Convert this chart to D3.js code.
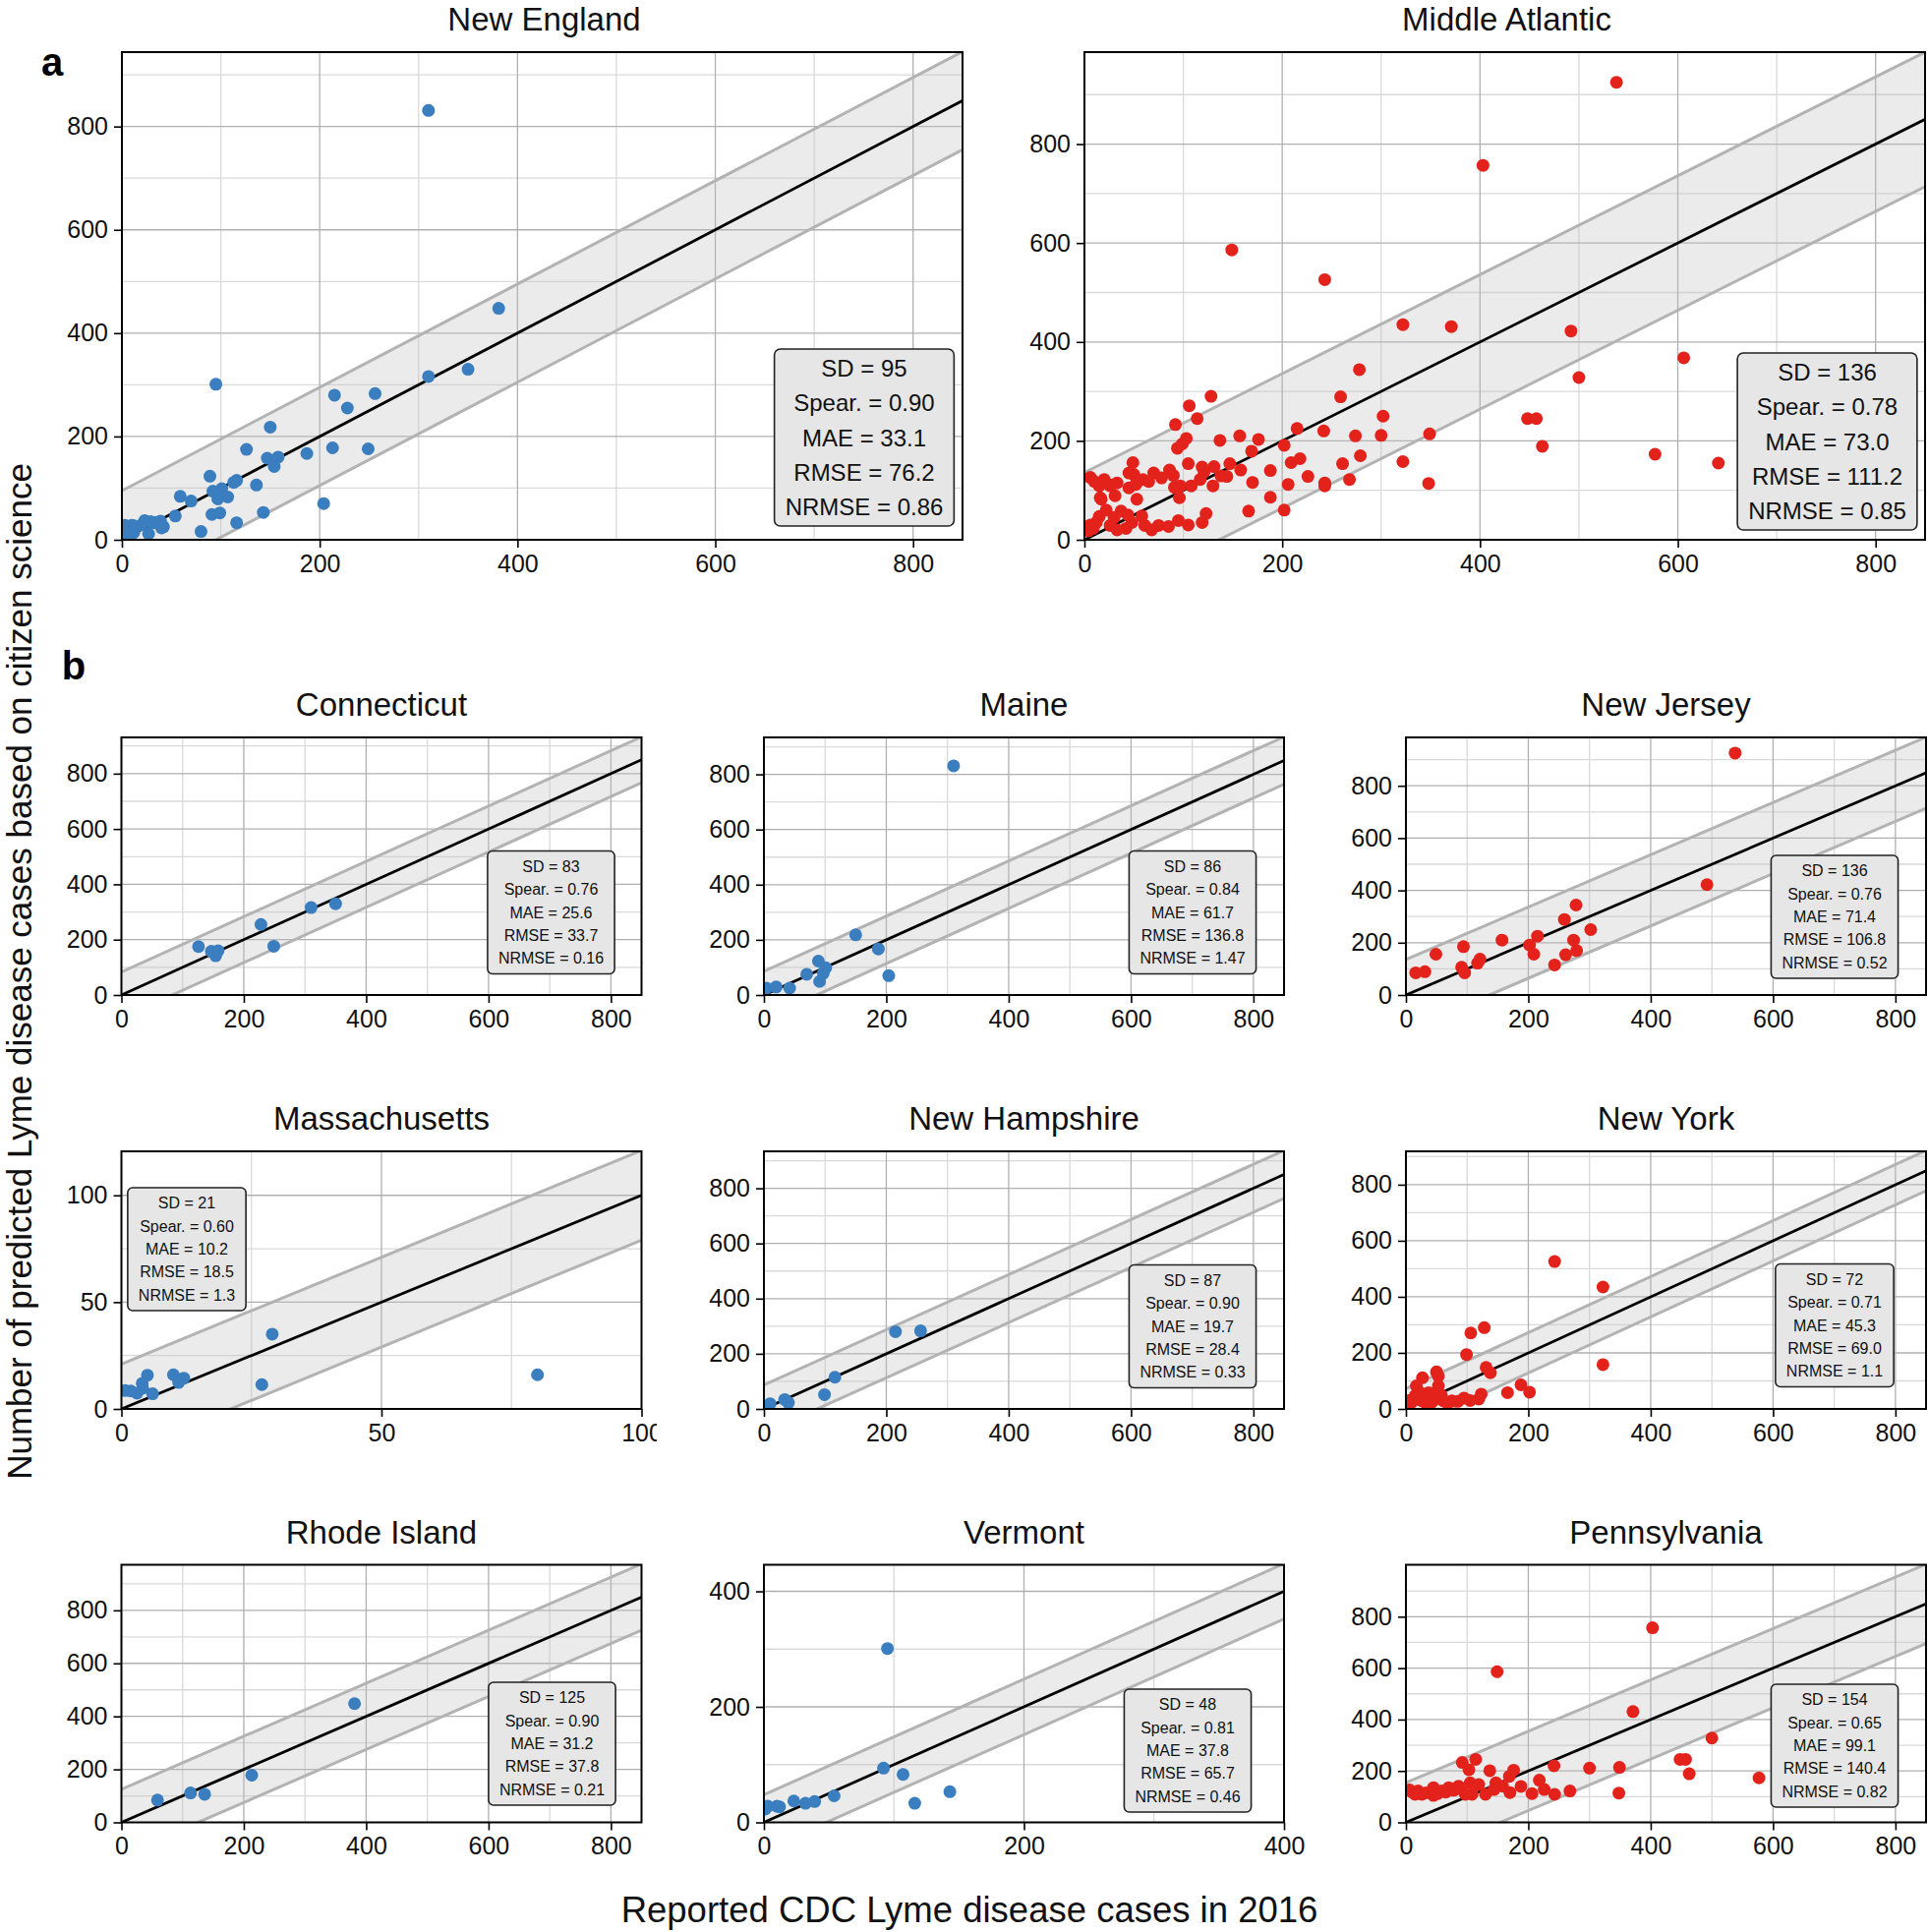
<!DOCTYPE html>
<html><head><meta charset="utf-8">
<script src="https://cdn.jsdelivr.net/npm/d3@7"></script>
<style>body{margin:0;background:#fff} svg{display:block} text{font-family:"Liberation Sans",Arial,Helvetica,sans-serif}</style>
</head><body><svg id="c" width="1961" height="1965"></svg>
<script>
// ---------------- DATA (reported CDC cases, predicted cases) ----------------
const connecticut = [[126,175],[147,158],[154,142],[158,160],[228,255],[249,176],[310,316],[350,330]];
const maine = [[310,831],[150,218],[187,167],[204,70],[89,123],[101,99],[97,79],[91,49],[70,75],[42,25],[20,29],[4,25]];
const massachusetts = [[80,16],[29,35],[27,11.4],[10,16],[12,14.4],[11,12.4],[5,15.8],[4,12],[6,7.1],[3,7.4],[1.8,8.4],[0.7,8.6],[4.1,9.7]];
const newHampshire = [[215,280],[256,283],[116,115],[99,52],[34,34],[40,23],[10,19]];
const rhodeIsland = [[59,84],[113,111],[136,106],[213,178],[381,448]];
const vermont = [[95,301],[92,94],[107,83],[143,53],[116,33],[54,46],[39,36],[32,33],[23,37],[12,27],[10,28],[3,28],[1,23]];
const newJersey = [[538,925],[492,422],[278,344],[259,289],[302,250],[274,210],[279,170],[261,154],[243,115],[215,225],[202,191],[209,156],[157,210],[121,137],[117,122],[94,185],[91,106],[96,85],[49,156],[31,89],[16,85]];
const newYork = [[243,526],[322,435],[322,158],[128,290],[106,271],[99,194],[131,148],[138,129],[188,86],[202,60],[166,58],[123,53],[119,35],[95,39],[75,29],[50,132],[53,117],[27,111],[17,82],[53,82],[37,58],[15,47],[26,29],[48,35],[9,23],[61,29],[4,18],[42,23],[30,45],[22,60],[12,35],[58,48],[68,20],[85,27],[33,20],[44,50],[6,30],[105,30]];
const pennsylvania = [[403,757],[149,586],[371,431],[500,328],[448,245],[457,245],[463,189],[577,173],[348,114],[349,214],[300,211],[242,220],[243,109],[268,122],[218,164],[226,128],[206,112],[188,140],[176,203],[169,179],[170,116],[137,201],[114,245],[92,233],[103,205],[105,154],[119,147],[130,109],[108,109],[86,141],[70,135],[59,122],[45,135],[45,105],[26,109],[15,109],[6,126],[147,154],[158,141],[144,128],[97,109],[10,118],[20,122],[33,115],[52,112],[65,118],[78,125],[90,130]];
const midAtlanticExtra = [[606,368],[641,155]];
const newEngland = [].concat(connecticut, maine, massachusetts, newHampshire, rhodeIsland, vermont);
const middleAtlantic = [].concat(newJersey, newYork, pennsylvania, midAtlanticExtra);

const panelNames = ["New England","Middle Atlantic","Connecticut","Maine","New Jersey","Massachusetts","New Hampshire","New York","Rhode Island","Vermont","Pennsylvania"];
const panelData = [newEngland, middleAtlantic, connecticut, maine, newJersey, massachusetts, newHampshire, newYork, rhodeIsland, vermont, pennsylvania];
const sdValues = [95,136,83,86,136,21,87,72,125,48,154];
const spearValues = ["0.90","0.78","0.76","0.84","0.76","0.60","0.90","0.71","0.90","0.81","0.65"];
const maeValues = ["33.1","73.0","25.6","61.7","71.4","10.2","19.7","45.3","31.2","37.8","99.1"];
const rmseValues = ["76.2","111.2","33.7","136.8","106.8","18.5","28.4","69.0","37.8","65.7","140.4"];
const nrmseValues = ["0.86","0.85","0.16","1.47","0.52","1.3","0.33","1.1","0.21","0.46","0.82"];
const xMaxValues = [850,850,850,850,850,100,850,850,850,400,850];
const yMaxValues = [944,986,931,934,985,120.6,934,919,972,446,1002];
const ticksStd = [0,200,400,600,800], minorStd = [100,300,500,700,900];
const ticksMass = [0,50,100], minorMass = [25,75];
const ticksVt = [0,200,400], minorVt = [100,300];
const regionOf = ["NE","MA","NE","NE","MA","NE","NE","MA","NE","NE","MA"];
const xLabel = "Reported CDC Lyme disease cases in 2016";
const yLabel = "Number of predicted Lyme disease cases based on citizen science";

// ---------------- LAYOUT ----------------
const colors = {NE:"#3a7ebf", MA:"#e3221c"};
const bigPanels = [{x:124,y:53,w:855,h:496},{x:1103,y:53,w:855,h:496}];
const colX = [123.5,777,1430], rowY = [750,1171,1591.5], smallW = 529, smallH = 262;
const boxCenters = [[755,392],[755.5,396],[437,178],[436,178],[436,182.5],[66.5,99.5],[436,178],[436,177],[438,182],[431,189],[436,184]];

const svg = d3.select("#c");

function drawPanel(i){
  const big = i < 2;
  let L;
  if (big) L = bigPanels[i]; else { const k=i-2; L = {x:colX[k%3], y:rowY[Math.floor(k/3)], w:smallW, h:smallH}; }
  const xMax = xMaxValues[i], yMax = yMaxValues[i], sd = sdValues[i];
  const xs = d3.scaleLinear().domain([0,xMax]).range([0,L.w]);
  const ys = d3.scaleLinear().domain([0,yMax]).range([L.h,0]);
  let xt = ticksStd, xm = minorStd.filter(v=>v<xMax), yt = ticksStd, ym = minorStd.filter(v=>v<yMax);
  if (panelNames[i]==="Massachusetts"){ xt=ticksMass; xm=minorMass; yt=ticksMass; ym=minorMass; }
  if (panelNames[i]==="Vermont"){ xt=ticksVt; xm=minorVt; yt=ticksVt; ym=minorVt; }
  const g = svg.append("g").attr("transform",`translate(${L.x},${L.y})`);
  const cid = "clip"+i;
  g.append("clipPath").attr("id",cid).append("rect").attr("width",L.w).attr("height",L.h);
  const pg = g.append("g").attr("clip-path",`url(#${cid})`);
  // minor grid
  pg.selectAll(".mx").data(xm).join("line").attr("x1",d=>xs(d)).attr("x2",d=>xs(d)).attr("y1",0).attr("y2",L.h).attr("stroke","#dadada").attr("stroke-width",1.3);
  pg.selectAll(".my").data(ym).join("line").attr("y1",d=>ys(d)).attr("y2",d=>ys(d)).attr("x1",0).attr("x2",L.w).attr("stroke","#dadada").attr("stroke-width",1.3);
  // major grid
  pg.selectAll(".Mx").data(xt.filter(v=>v>0&&v<xMax)).join("line").attr("x1",d=>xs(d)).attr("x2",d=>xs(d)).attr("y1",0).attr("y2",L.h).attr("stroke","#b0b0b0").attr("stroke-width",1.3);
  pg.selectAll(".My").data(yt.filter(v=>v>0&&v<yMax)).join("line").attr("y1",d=>ys(d)).attr("y2",d=>ys(d)).attr("x1",0).attr("x2",L.w).attr("stroke","#b0b0b0").attr("stroke-width",1.3);
  // band
  const x0 = -sd, x1 = xMax + sd;
  const band = [[x0,x0+sd],[x1,x1+sd],[x1,x1-sd],[x0,x0-sd]];
  pg.append("polygon").attr("points", band.map(p=>xs(p[0])+","+ys(p[1])).join(" ")).attr("fill","#bdbdbd").attr("fill-opacity",0.3);
  const line = d3.line().x(p=>xs(p[0])).y(p=>ys(p[1]));
  pg.append("path").attr("d",line([[x0,x0+sd],[x1,x1+sd]])).attr("stroke","#b3b3b3").attr("stroke-width",3).attr("fill","none");
  pg.append("path").attr("d",line([[x0,x0-sd],[x1,x1-sd]])).attr("stroke","#b3b3b3").attr("stroke-width",3).attr("fill","none");
  pg.append("path").attr("d",line([[0,0],[x1,x1]])).attr("stroke","#000").attr("stroke-width",2.8).attr("fill","none");
  // points
  pg.selectAll("circle").data(panelData[i]).join("circle").attr("cx",d=>xs(d[0])).attr("cy",d=>ys(d[1])).attr("r",6.5).attr("fill",colors[regionOf[i]]);
  // stats box
  const lines = ["SD = "+sdValues[i],"Spear. = "+spearValues[i],"MAE = "+maeValues[i],"RMSE = "+rmseValues[i],"NRMSE = "+nrmseValues[i]];
  const fs = big?24:16, sp = big?35.3:23.3, pad = 11, extraH = big?3.5:8.5;
  const [cx,cy] = boxCenters[i];
  const bg = g.append("g");
  const rect = bg.append("rect");
  let maxw = 0;
  lines.forEach((t,j)=>{
    const tx = bg.append("text").attr("x",cx).attr("y",cy+(j-2)*sp).attr("text-anchor","middle").attr("dominant-baseline","central").attr("font-size",fs).attr("fill","#111").text(t);
    maxw = Math.max(maxw, tx.node().getComputedTextLength());
  });
  const bw = maxw + 2*pad, bh = 5*sp + extraH;
  rect.attr("x",cx-bw/2).attr("y",cy-bh/2).attr("width",bw).attr("height",bh).attr("rx",big?6:5).attr("fill","#e6e6e6").attr("stroke","#222").attr("stroke-width",1.6);
  // frame
  g.append("rect").attr("width",L.w).attr("height",L.h).attr("fill","none").attr("stroke","#000").attr("stroke-width",2);
  // axes
  const ax = g.append("g").attr("transform",`translate(0,${L.h})`).call(d3.axisBottom(xs).tickValues(xt).tickSize(8).tickPadding(7).tickFormat(d3.format("d")));
  const ay = g.append("g").call(d3.axisLeft(ys).tickValues(yt).tickSize(8).tickPadding(6).tickFormat(d3.format("d")));
  [ax,ay].forEach(a=>{ a.select(".domain").remove(); a.selectAll("line").attr("stroke","#000").attr("stroke-width",1.6); a.selectAll("text").attr("font-size",25).attr("fill","#111").style("font-family",'"Liberation Sans",Arial,sans-serif'); });
  if (panelNames[i]==="Massachusetts"){
    g.append("clipPath").attr("id","axclip").append("rect").attr("x",-60).attr("y",-10).attr("width",544.5+60).attr("height",60);
    ax.attr("clip-path","url(#axclip)");
  }
  // title (alphabetic baseline)
  g.append("text").attr("x",L.w/2 + (big?2:0)).attr("y",-22).attr("text-anchor","middle").attr("font-size",33).attr("fill","#111").text(panelNames[i]);
}
for (let i=0;i<panelNames.length;i++) drawPanel(i);

svg.append("text").attr("x",53).attr("y",63).attr("text-anchor","middle").attr("dominant-baseline","central").attr("font-size",40).attr("font-weight","bold").text("a");
svg.append("text").attr("x",75).attr("y",677).attr("text-anchor","middle").attr("dominant-baseline","central").attr("font-size",40).attr("font-weight","bold").text("b");
svg.append("text").attr("x",986).attr("y",1942).attr("text-anchor","middle").attr("dominant-baseline","central").attr("font-size",36.5).attr("fill","#111").text(xLabel);
svg.append("text").attr("transform","translate(32,988) rotate(-90)").attr("text-anchor","middle").attr("font-size",35).attr("fill","#111").text(yLabel);
</script></body></html>
